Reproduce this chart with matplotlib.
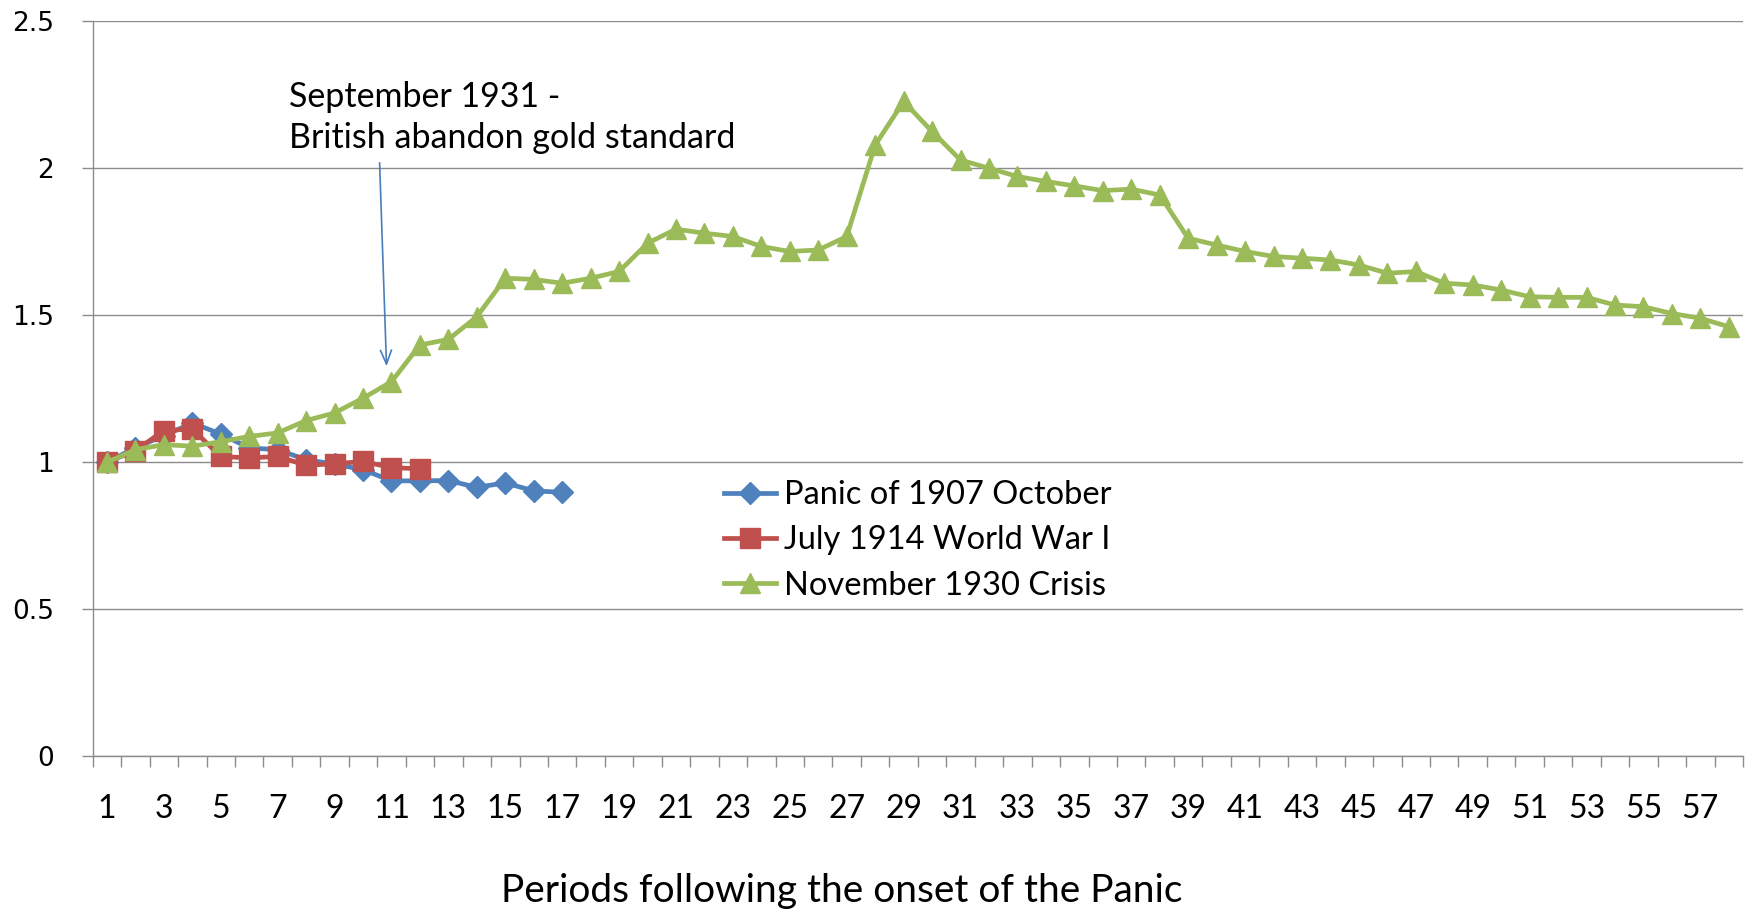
import numpy as np
import matplotlib
matplotlib.use('Agg')
import matplotlib.pyplot as plt
from matplotlib.ticker import FixedLocator

# series values
panic_1907 = [1.0, 1.05, 1.09, 1.134, 1.096, 1.049, 1.043, 1.009, 0.994, 0.975,
              0.937, 0.937, 0.938, 0.915, 0.93, 0.903, 0.898]
ww1_1914 = [1.0, 1.04, 1.108, 1.113, 1.02, 1.015, 1.02, 0.99, 0.995, 1.003,
            0.982, 0.978]
crisis_1930 = [1.0, 1.043, 1.06, 1.055, 1.07, 1.088, 1.10, 1.142, 1.168, 1.218,
               1.274, 1.399, 1.418, 1.495, 1.626, 1.622, 1.609, 1.626, 1.649, 1.745,
               1.793, 1.779, 1.768, 1.734, 1.717, 1.722, 1.768, 2.079, 2.227, 2.125,
               2.028, 2.0, 1.972, 1.955, 1.94, 1.924, 1.929, 1.909, 1.762, 1.739,
               1.717, 1.70, 1.694, 1.688, 1.671, 1.643, 1.649, 1.609, 1.603, 1.586,
               1.563, 1.561, 1.561, 1.535, 1.529, 1.506, 1.49, 1.461]
labels = ['Panic of 1907 October', 'July 1914 World War I', 'November 1930 Crisis']
yticks = [0, 0.5, 1, 1.5, 2, 2.5]
ytick_labels = ['0', '0.5', '1', '1.5', '2', '2.5']
note = 'September 1931 -\nBritish abandon gold standard'
xlabel = 'Periods following the onset of the Panic'

W, H = 1752, 909
fig = plt.figure(figsize=(W / 100, H / 100), dpi=100)
ax = fig.add_axes([92.7 / W, 1 - 756.4 / H, (1743 - 92.7) / W, (756.4 - 21.2) / H])

txtfont = 'Lato'
grid_c = '#8c8c8c'

ax.set_ylim(0, 2.5)
ax.set_xlim(0.5, 58.5)
ax.set_yticks(yticks)
ax.set_yticklabels(ytick_labels)
ax.grid(axis='y', color=grid_c, lw=1.0)
ax.set_axisbelow(True)

# x ticks: labels on odd periods, tick marks between categories
ax.xaxis.set_major_locator(FixedLocator(np.arange(1, 59, 2)))
ax.xaxis.set_minor_locator(FixedLocator(np.arange(0.5, 59, 1)))
ax.tick_params(axis='x', which='major', length=0, pad=27, labelsize=23)
ax.tick_params(axis='x', which='minor', length=8, color=grid_c, width=1.0)
ax.tick_params(axis='y', length=8, color=grid_c, width=1.0, pad=20, labelsize=19)
for t in ax.get_xticklabels():
    t.set_fontfamily(txtfont)

for s in ['top', 'right']:
    ax.spines[s].set_visible(False)
for s in ['left', 'bottom']:
    ax.spines[s].set_color(grid_c)
    ax.spines[s].set_linewidth(1.0)

l1, = ax.plot(np.arange(1, len(panic_1907) + 1), panic_1907, color='#4F81BD', lw=3.4,
              marker='D', ms=11, zorder=3)
l2, = ax.plot(np.arange(1, len(ww1_1914) + 1), ww1_1914, color='#C0504D', lw=3.4,
              marker='s', ms=14, zorder=4)
l3, = ax.plot(np.arange(1, len(crisis_1930) + 1), crisis_1930, color='#9BBB59', lw=3.4,
              marker='^', ms=14, zorder=5)

ax.annotate('', xy=(10.83, 1.317), xytext=(10.58, 2.028),
            arrowprops=dict(arrowstyle='->,head_length=1.0,head_width=0.4',
                            color='#4A7EBB', lw=1.2))
ax.text(7.39, 2.172, note, fontsize=24.5, family=txtfont, va='center', ha='left',
        linespacing=1.35)

leg = fig.legend([l1, l2, l3], labels, loc='upper left',
                 bbox_to_anchor=(724 / W, 1 - 480 / H), frameon=False,
                 borderpad=0, borderaxespad=0, handlelength=1.6, handletextpad=0.25,
                 labelspacing=0.47, prop={'family': txtfont, 'size': 23.5})

fig.text(842 / W, 1 - 891 / H, xlabel, fontsize=28, family=txtfont,
         ha='center', va='center')

fig.savefig('out.png', dpi=100)
